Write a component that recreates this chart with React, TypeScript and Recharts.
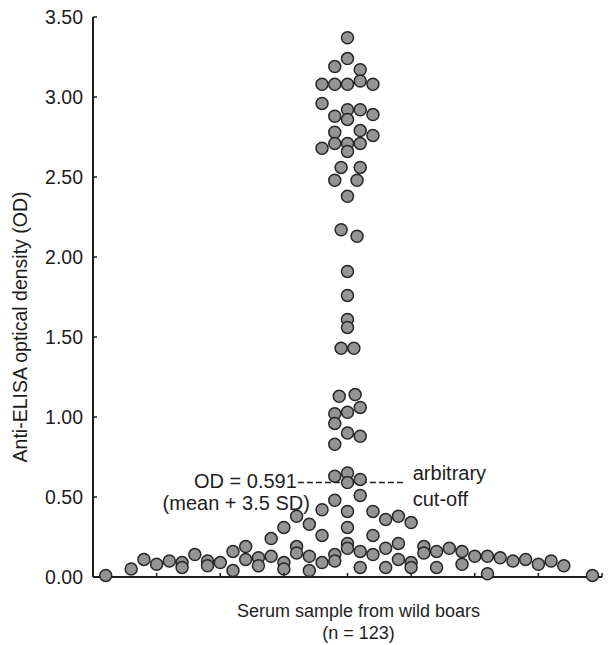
import React from 'react';
import { ScatterChart, Scatter, XAxis, YAxis, ReferenceLine, Label } from 'recharts';

// horizontal position of each serum sample (swarm column) and its OD reading
const sampleX = [
  4.0, 4.0, 3.8, 4.2, 4.2, 3.6, 3.8, 4.0, 4.4, 3.6, 4.0, 4.2, 3.8, 4.4, 4.0, 3.8, 4.2, 4.4, 3.8, 4.0,
  4.2, 3.6, 4.0, 3.9, 4.2, 3.8, 4.15, 4.0, 3.9, 4.15,
  4.0, 4.0, 4.0, 4.0, 3.9, 4.1, 3.87, 4.12, 4.2, 4.0, 3.8, 3.8, 4.0, 4.2, 3.8,
  3.8, 4.0, 4.0, 4.2, 4.2, 3.8, 3.6, 4.0, 4.4, 3.2, 4.6, 4.8, 3.4, 5.0, 3.0, 4.0, 3.6, 4.4, 2.8, 2.4,
  2.2, 3.2, 3.2, 4.8, 4.0, 4.0, 2.8, 4.6, 4.2, 4.4, 2.4, 2.6, 3.4, 3.8, 3.8, 2.0, 3.0, 3.0, 3.6, 4.8,
  5.0, 5.0, 2.6, 2.2, 3.4, 4.2, 4.6,
  0.2, 0.6, 0.8, 1.0, 1.2, 1.4, 1.4, 1.6, 1.8, 1.8,
  5.2, 5.2, 5.4, 5.4, 5.6, 5.8, 5.8, 6.0, 6.2, 6.2, 6.4, 6.6, 6.8, 7.0, 7.2, 7.4, 7.85,
];

const odValues = [
  3.37, 3.24, 3.19, 3.17, 3.10, 3.08, 3.08, 3.08, 3.08, 2.96, 2.92, 2.92, 2.88, 2.89, 2.86, 2.78, 2.79, 2.76, 2.71, 2.71,
  2.71, 2.68, 2.66, 2.56, 2.56, 2.48, 2.48, 2.38, 2.17, 2.13,
  1.91, 1.76, 1.61, 1.56, 1.43, 1.43, 1.13, 1.14, 1.06, 1.03, 1.02, 0.96, 0.90, 0.88, 0.83,
  0.63, 0.65, 0.59, 0.61, 0.51, 0.48, 0.42, 0.41, 0.41, 0.38, 0.36, 0.38, 0.33, 0.34, 0.31, 0.31, 0.26, 0.26, 0.24, 0.19,
  0.16, 0.19, 0.15, 0.21, 0.21, 0.18, 0.13, 0.18, 0.16, 0.14, 0.11, 0.12, 0.13, 0.14, 0.10, 0.09, 0.09, 0.05, 0.09, 0.11,
  0.09, 0.06, 0.07, 0.04, 0.04, 0.06, 0.06,
  0.01, 0.05, 0.11, 0.08, 0.10, 0.09, 0.06, 0.14, 0.10, 0.07,
  0.19, 0.15, 0.16, 0.06, 0.18, 0.16, 0.08, 0.13, 0.13, 0.02, 0.12, 0.10, 0.11, 0.08, 0.10, 0.07, 0.01,
];

const yTicks = [0, 0.5, 1, 1.5, 2, 2.5, 3, 3.5];
const xTicks = [0, 1, 2, 3, 4, 5, 6, 7, 8];
const cutoff = 0.591;

const data = sampleX.map((x, i) => ({ x, y: odValues[i] }));

const FONT = 'Liberation Sans, Arial, sans-serif';
const INK = '#1e1e1e';

const Dot = (props: any) => (
  <circle cx={props.cx} cy={props.cy} r={6} fill="#949494" stroke="#262626" strokeWidth={1.5} />
);

const YTick = (props: any) => {
  const { x, y, payload } = props;
  return (
    <g>
      <line x1={x + 10} y1={y} x2={x + 14} y2={y} stroke={INK} strokeWidth={1.5} />
      <text x={x} y={y} dy={7} textAnchor="end" fontFamily={FONT} fontSize={19.5} fill={INK}>
        {Number(payload.value).toFixed(2)}
      </text>
    </g>
  );
};

const XTick = (props: any) => {
  const { x, y } = props;
  return <line x1={x} y1={y} x2={x} y2={y - 4} stroke={INK} strokeWidth={1.5} />;
};

const CutoffLabel = (props: any) => {
  const vb = props.viewBox || {};
  const left = vb.x;
  const right = vb.x + (vb.width || 0);
  const cy = vb.y;
  return (
    <g fontFamily={FONT} fontSize={20} fill={INK}>
      <text x={left - 1} y={cy + 6} textAnchor="end">OD = 0.591</text>
      <text x={left + 12} y={cy + 28} textAnchor="end">(mean + 3.5 SD)</text>
      <text x={right + 8} y={cy - 2}>arbitrary</text>
      <text x={right + 8} y={cy + 24}>cut-off</text>
    </g>
  );
};

export default function App() {
  return (
    <div style={{ position: 'absolute', left: 0, top: 0, width: 609, height: 645, background: '#fff' }}>
      <ScatterChart width={609} height={645} margin={{ top: 17, right: 7, bottom: 0, left: 0 }}>
        <XAxis
          type="number"
          dataKey="x"
          domain={[0, 8]}
          ticks={xTicks}
          tick={<XTick />}
          tickLine={false}
          tickSize={0}
          tickMargin={0}
          height={68}
          axisLine={{ stroke: INK, strokeWidth: 2 }}
        >
          <Label
            content={(p: any) => {
              const vb = p.viewBox;
              const cx = vb.x + vb.width / 2 + 11;
              return (
                <g fontFamily={FONT} fontSize={18} fill={INK}>
                  <text x={cx} y={vb.y + 40} textAnchor="middle">Serum sample from wild boars</text>
                  <text x={cx} y={vb.y + 62} textAnchor="middle">(n = 123)</text>
                </g>
              );
            }}
          />
        </XAxis>
        <YAxis
          type="number"
          dataKey="y"
          domain={[0, 3.5]}
          ticks={yTicks}
          width={93}
          tick={<YTick />}
          tickLine={false}
          tickSize={0}
          tickMargin={10}
          axisLine={{ stroke: INK, strokeWidth: 2 }}
        >
          <Label
            content={(p: any) => {
              const vb = p.viewBox;
              const cy = vb.y + vb.height / 2 + 30;
              return (
                <text
                  x={20}
                  y={cy}
                  transform={`rotate(-90, 20, ${cy})`}
                  textAnchor="middle"
                  dominantBaseline="central"
                  fontFamily={FONT}
                  fontSize={19.5}
                  fill={INK}
                >
                  Anti-ELISA optical density (OD)
                </text>
              );
            }}
          />
        </YAxis>
        <ReferenceLine
          segment={[{ x: 3.22, y: cutoff }, { x: 4.9, y: cutoff }]}
          stroke={INK}
          strokeWidth={1.5}
          strokeDasharray="6 3"
          label={<CutoffLabel />}
        />
        <Scatter data={data} shape={<Dot />} isAnimationActive={false} />
      </ScatterChart>
    </div>
  );
}
